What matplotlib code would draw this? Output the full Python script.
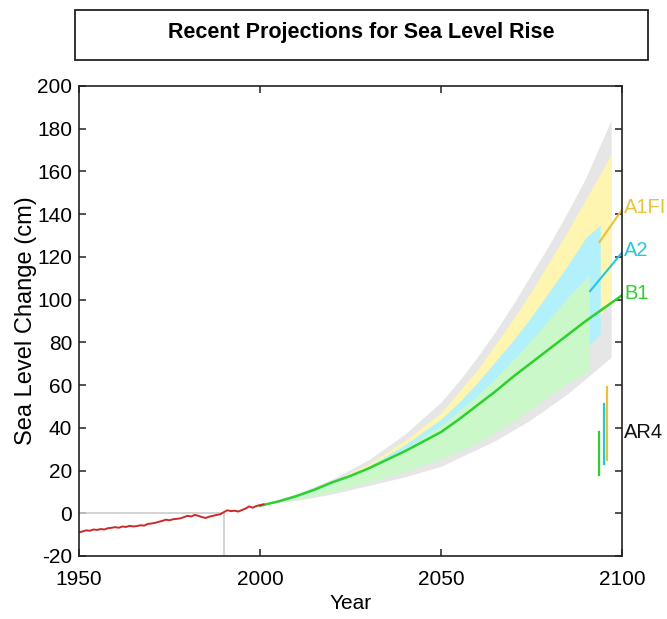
import numpy as np
import matplotlib
matplotlib.use('Agg')
import matplotlib.pyplot as plt
from matplotlib.patches import Rectangle

FONT = ['Liberation Sans', 'DejaVu Sans']
plt.rcParams['font.family'] = FONT
plt.rcParams['axes.unicode_minus'] = False

# ---------------------------------------------------------------- data

# observed sea level (tide gauges), cm
obs_years = np.arange(1950, 2002)
obs_cm = [
    -9.0, -8.5, -8.0, -8.2, -7.6, -7.8, -7.4, -7.6, -7.0, -6.8,
    -6.5, -6.8, -6.2, -6.4, -5.9, -6.2, -6.0, -5.6, -5.8, -5.0,
    -4.8, -4.5, -4.0, -3.6, -3.0, -3.3, -2.8, -2.6, -2.4, -1.8,
    -1.2, -1.5, -0.8, -1.2, -1.8, -2.2, -1.6, -1.2, -0.8, -0.5,
    0.5, 1.4, 1.0, 1.2, 0.8, 1.5, 2.2, 3.2, 2.6, 3.4,
    3.8, 4.2,
]

# B1 central projection
b1_years = np.arange(2000, 2101, 5)
b1_cm = [3.5, 5.5, 8, 11, 14.5, 17.5, 21, 25, 29, 33.5, 38,
         44, 50.5, 57, 64, 70.5, 77, 83.5, 90, 96, 102]

# uncertainty bands; the last year in each list is where the band stops
gray_years = [2000, 2010, 2020, 2030, 2040, 2050, 2055, 2060, 2065, 2070, 2075, 2080, 2085, 2090, 2097]
gray_hi = [4, 9, 16, 25, 37, 52, 62, 73, 85, 98, 112, 126, 141, 157, 184]
gray_lo = [4, 6, 9, 13, 17, 22, 26, 30, 34, 39, 44, 50, 56, 63, 73]

a1fi_years = gray_years
a1fi_hi = [4, 8.5, 15, 23, 34, 47, 57, 67, 79, 91, 104, 118, 132, 147, 168]
a1fi_lo = [4, 7, 11.5, 16, 22, 29, 33, 38, 44, 50, 57, 64, 72, 82, 100]

a2_years = [2000, 2010, 2020, 2030, 2040, 2050, 2055, 2060, 2065, 2070, 2075, 2080, 2085, 2090, 2094]
a2_hi = [4, 8, 14, 22, 32, 44, 52, 61, 71, 81, 92, 104, 116, 129, 135]
a2_lo = [4, 7, 11, 15.5, 21, 27.5, 31.5, 36, 41, 47, 53, 60, 68, 77, 84]

b1_band_years = [2000, 2010, 2020, 2030, 2040, 2050, 2055, 2060, 2065, 2070, 2075, 2080, 2085, 2090, 2091]
b1_hi = [4, 7.5, 13.5, 21, 30, 41, 48, 55, 63, 72, 81, 91, 101, 110, 112]
b1_lo = [4, 6.5, 10, 14.5, 19.5, 25.5, 29, 33, 38, 43, 49, 55, 61, 66, 67]

# end segments of the scenario lines
a1fi_seg_x, a1fi_seg_y = [2093.8, 2100], [127, 142]
a2_seg_x, a2_seg_y = [2091.2, 2100], [104, 122]

# AR4 ranges
ar4_x = [2093.6, 2094.9, 2095.9]
ar4_lo = [18, 23, 25]
ar4_hi = [38, 51, 59]

labels = ['A1FI', 'A2', 'B1']
label_y = [143, 123, 103]

# ---------------------------------------------------------------- style

C_GRAY_BAND = '#e6e6e6'
C_Y_BAND, C_C_BAND, C_G_BAND = '#fdf5b0', '#b2f1fb', '#caf8c8'
C_Y, C_C, C_G = '#e8c23c', '#26c6dc', '#2ed02e'
C_RED = '#cc2a2a'
C_REF = '#cccccc'

fig = plt.figure(figsize=(6.67, 6.19), dpi=100)
ax = fig.add_axes([0.1184, 0.1018, 0.8141, 0.7593])

# title box
fig.patches.append(Rectangle((0.1124, 0.903), 0.859, 0.0808, transform=fig.transFigure,
                             fill=False, edgecolor='#222222', lw=1.3))
fig.text(0.5413, 0.9467, 'Recent Projections for Sea Level Rise', ha='center',
         va='center', fontsize=15.5, fontweight='bold')

ax.fill_between(gray_years, gray_lo, gray_hi, color=C_GRAY_BAND, lw=0)
ax.fill_between(a1fi_years, a1fi_lo, a1fi_hi, color=C_Y_BAND, lw=0)
ax.fill_between(a2_years, a2_lo, a2_hi, color=C_C_BAND, lw=0)
ax.fill_between(b1_band_years, b1_lo, b1_hi, color=C_G_BAND, lw=0)

ax.plot([1950, 1990], [0, 0], color=C_REF, lw=1.2)
ax.plot([1990, 1990], [-20, 0], color=C_REF, lw=1.2)

ax.plot(b1_years, b1_cm, color=C_G, lw=1.8)
ax.plot(obs_years, obs_cm, color=C_RED, lw=1.4)
ax.plot(a1fi_seg_x, a1fi_seg_y, color=C_Y, lw=1.5)
ax.plot(a2_seg_x, a2_seg_y, color=C_C, lw=1.5)

for x, lo, hi, c in zip(ar4_x, ar4_lo, ar4_hi, [C_G, C_C, C_Y]):
    ax.plot([x, x], [lo, hi], color=c, lw=1.6)

for lab, y, c in zip(labels, label_y, [C_Y, C_C, C_G]):
    ax.text(2100.6, y, lab, color=c, fontsize=14.5, va='center', ha='left', clip_on=False)
ax.text(2100.6, 38, 'AR4', color='#111111', fontsize=14.5, va='center', ha='left', clip_on=False)

ax.set_xlim(1950, 2100)
ax.set_ylim(-20, 200)
ax.set_xticks([1950, 2000, 2050, 2100])
ax.set_yticks(np.arange(-20, 201, 20))
ax.tick_params(direction='in', length=5, width=1.1, top=True, right=True,
               labelsize=15, pad=5, color='#222222')
ax.tick_params(axis='x', pad=10)
for s in ax.spines.values():
    s.set_color('#222222')
    s.set_linewidth(1.2)

ax.set_xlabel('Year', fontsize=15, labelpad=4)
ax.set_ylabel('Sea Level Change (cm)', fontsize=17, labelpad=0)

fig.savefig('out.png', dpi=100)
